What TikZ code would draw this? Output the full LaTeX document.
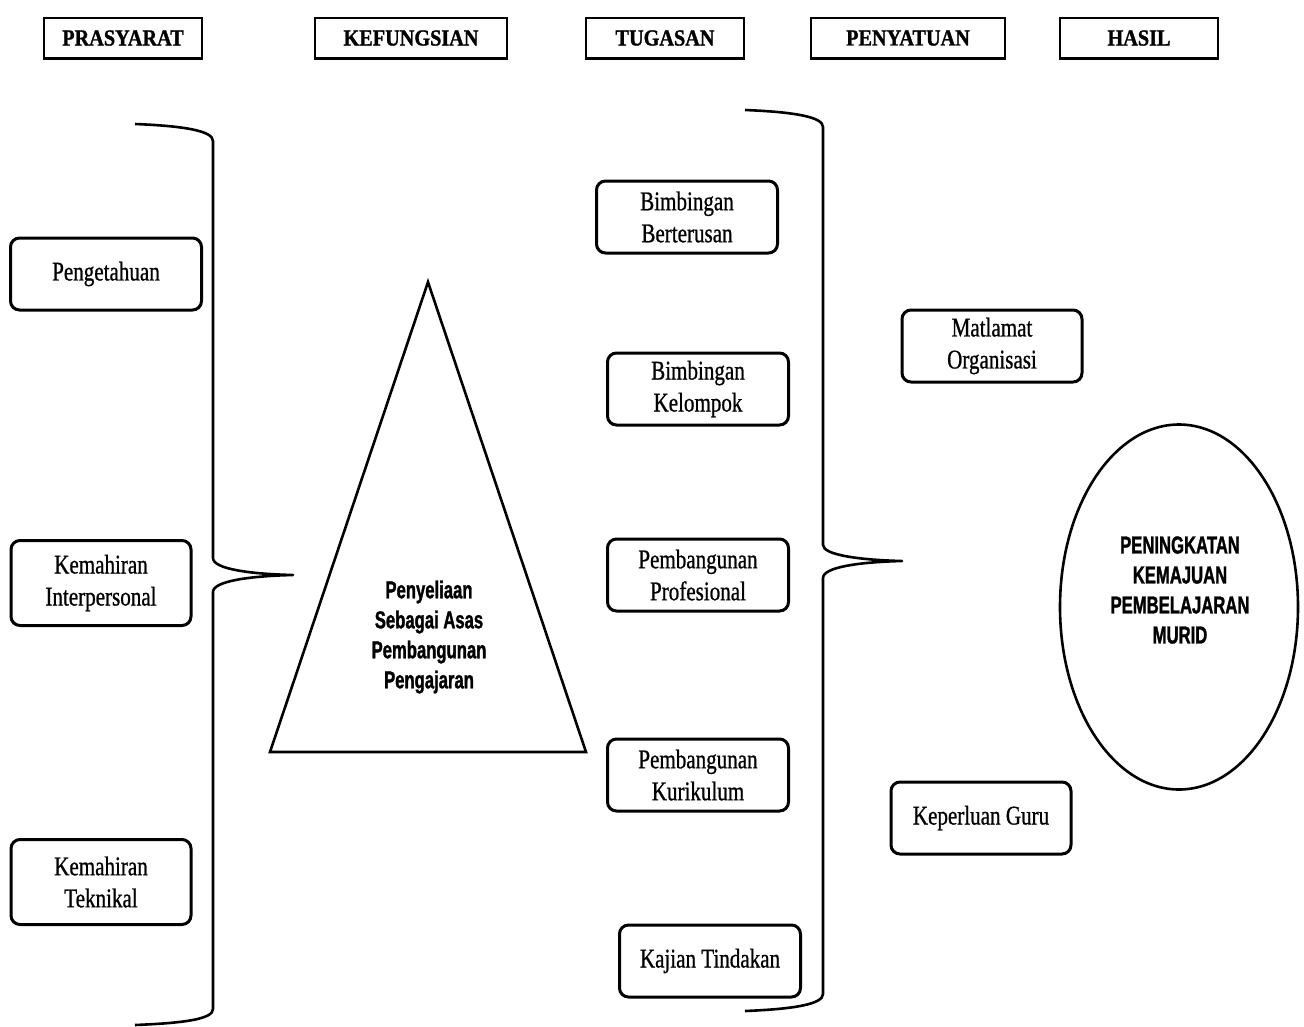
\documentclass[tikz,border=0pt]{standalone}
\usepackage{fontspec}
\usetikzlibrary{shapes.geometric}
\newfontfamily\hdrfont[FakeStretch=0.88,FakeBold=1.2]{Liberation Serif}
\newfontfamily\boxfont[FakeStretch=0.78,FakeBold=0.8]{Liberation Serif}
\newfontfamily\narrowsans[FakeStretch=0.68,FakeBold=1.2]{Liberation Sans}
\begin{document}
\begin{tikzpicture}[x=1pt,y=-1pt,
  hdr/.style={draw,line width=1.3pt,minimum width=#1,minimum height=40pt,inner sep=0pt,
    font=\hdrfont\bfseries\fontsize{23}{26}\selectfont},
  rbox/.style={draw,line width=3pt,rounded corners=9pt,minimum width=#1,minimum height=72pt,
    inner sep=0pt,align=center,font=\boxfont\fontsize{27}{32}\selectfont},
  brace/.style={line width=2.6pt,line join=round},
  bigsans/.style={align=center,font=\narrowsans\bfseries\fontsize{24.5}{30}\selectfont}]
\useasboundingbox (0,0) rectangle (1304,1026);
% headers
\node[hdr=158pt] (h1) at (123,38) {PRASYARAT};
\node[hdr=192pt] (h2) at (411,38) {KEFUNGSIAN};
\node[hdr=158pt] (h3) at (665,38) {TUGASAN};
\node[hdr=194pt] (h4) at (908,38) {PENYATUAN};
\node[hdr=158pt] (h5) at (1139,38) {HASIL};
\foreach \n in {h1,h2,h3,h4,h5}{\draw[line width=2.4pt] ([yshift=-0.6pt]\n.south west) -- ([yshift=-0.6pt]\n.south east);}
% left column
\node[rbox=191pt] (peng) at (106,274) {Pengetahuan};
\node[rbox=180pt,minimum height=85pt] (kinter) at (101,583) {Kemahiran\\Interpersonal};
\node[rbox=180pt,minimum height=85pt] (ktek) at (101,882) {Kemahiran\\Teknikal};
% tasks
\node[rbox=181pt] (bber) at (687,217) {Bimbingan\\Berterusan};
\node[rbox=181pt] (bkel) at (698,389) {Bimbingan\\Kelompok};
\node[rbox=181pt] (ppro) at (698,575) {Pembangunan\\Profesional};
\node[rbox=181pt] (pkur) at (698,775) {Pembangunan\\Kurikulum};
\node[rbox=181pt] (kaj) at (710,961) {Kajian Tindakan};
% penyatuan
\node[rbox=180pt] (mat) at (992,346) {Matlamat\\Organisasi};
\node[rbox=180pt] (kep) at (981,818) {Keperluan Guru};
% triangle
\coordinate (tA) at (428,282);
\coordinate (tB) at (270,752);
\coordinate (tC) at (586,752);
\draw[line width=2.6pt,line join=miter] (tA) -- (tB) -- (tC) -- cycle;
\node[bigsans] (tri) at (429,637) {Penyeliaan\\Sebagai Asas\\Pembangunan\\Pengajaran};
% ellipse
\node[draw,ellipse,line width=2.6pt,minimum width=238pt,minimum height=365pt,inner sep=0pt] (hasil) at (1179,607) {};
\node[bigsans] (hasiltext) at (1180,590) {PENINGKATAN\\KEMAJUAN\\PEMBELAJARAN\\MURID};
% left brace
\coordinate (lb1) at (135,124);
\coordinate (ltip) at (293,575);
\coordinate (lb2) at (135,1025);
\draw[brace] (lb1) .. controls (185,126) and (213,131) .. (213,141) -- (213,558)
  .. controls (213,569) and (250,574) .. (ltip)
  .. controls (250,576) and (213,581) .. (213,592) -- (213,1009)
  .. controls (213,1019) and (185,1023) .. (lb2);
% right brace
\coordinate (rb1) at (745,110);
\coordinate (rtip) at (902,561);
\coordinate (rb2) at (745,1011);
\draw[brace] (rb1) .. controls (795,112) and (823,117) .. (823,127) -- (823,545)
  .. controls (823,555) and (860,560) .. (rtip)
  .. controls (860,562) and (823,567) .. (823,578) -- (823,994)
  .. controls (823,1004) and (795,1009) .. (rb2);
\end{tikzpicture}
\end{document}
